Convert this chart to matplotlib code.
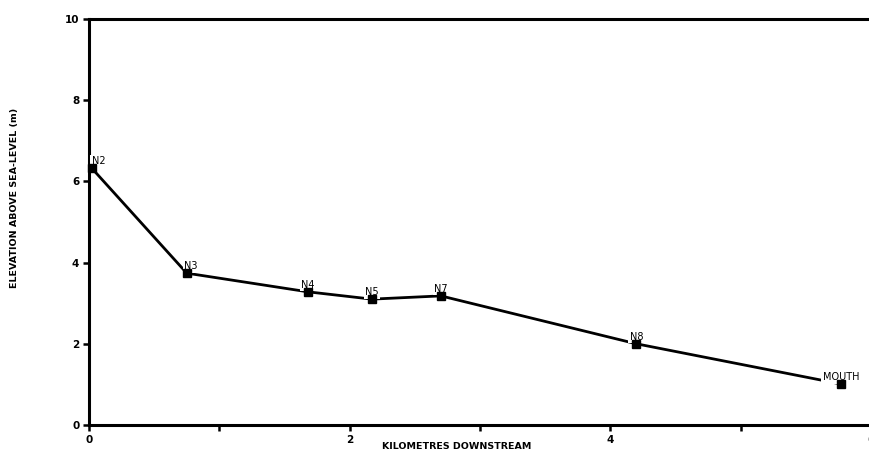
import matplotlib
matplotlib.use("Agg")
import matplotlib.pyplot as plt
from matplotlib.ticker import FixedLocator

# River long profile: station distance downstream (km) and bed elevation (m)
stations = ["N2", "N3", "N4", "N5", "N7", "N8", "MOUTH"]
distance_km = [0.02, 0.75, 1.68, 2.17, 2.70, 4.20, 5.77]
elevation_m = [6.33, 3.74, 3.28, 3.10, 3.18, 2.00, 1.01]

x_major = [0, 2, 4, 6]
x_minor = [1, 3, 5]
y_major = [0, 2, 4, 6, 8, 10]

fig = plt.figure(figsize=(8.69, 4.53), dpi=100)
ax = fig.add_axes([89 / 869, 28 / 453, 782 / 869, 406 / 453])

ax.plot(distance_km, elevation_m, color="black", lw=2.0, zorder=2,
        solid_capstyle="butt")
ax.plot(distance_km, elevation_m, ls="none", marker="s", ms=5.5,
        color="black", zorder=4, clip_on=False)

# station names sit just above each point; white boxes break the profile line
label_align = {"N2": ("left", 0), "N3": ("left", -2)}
for name, xv, yv in zip(stations, distance_km, elevation_m):
    ha, dx = label_align.get(name, ("center", 0))
    ax.annotate(name, (xv, yv), xytext=(dx, 5), textcoords="offset points",
                ha=ha, va="center", fontsize=7, color="black", zorder=3,
                bbox=dict(boxstyle="square,pad=0.15", fc="white", ec="none"))

ax.set_xlim(0, 6)
ax.set_ylim(0, 10)
ax.xaxis.set_major_locator(FixedLocator(x_major))
ax.xaxis.set_minor_locator(FixedLocator(x_minor))
ax.yaxis.set_major_locator(FixedLocator(y_major))
ax.set_xticklabels([str(v) for v in x_major])
ax.set_yticklabels([str(v) for v in y_major])

for side in ("left", "bottom", "top"):
    ax.spines[side].set_linewidth(2.2)
ax.spines["right"].set_visible(False)

ax.tick_params(axis="both", which="both", direction="out", length=4,
               width=1.8, labelsize=7.5, pad=3)
for lab in ax.get_xticklabels() + ax.get_yticklabels():
    lab.set_fontweight("bold")

ax.set_xlabel("KILOMETRES DOWNSTREAM", fontsize=6.8, fontweight="bold")
ax.set_ylabel("ELEVATION ABOVE SEA-LEVEL (m)", fontsize=6.8, fontweight="bold")
ax.xaxis.set_label_coords((457 - 89) / 782, -0.042)
ax.yaxis.set_label_coords(-0.09, 0.56)

fig.savefig("out.png", dpi=100, facecolor="white")
